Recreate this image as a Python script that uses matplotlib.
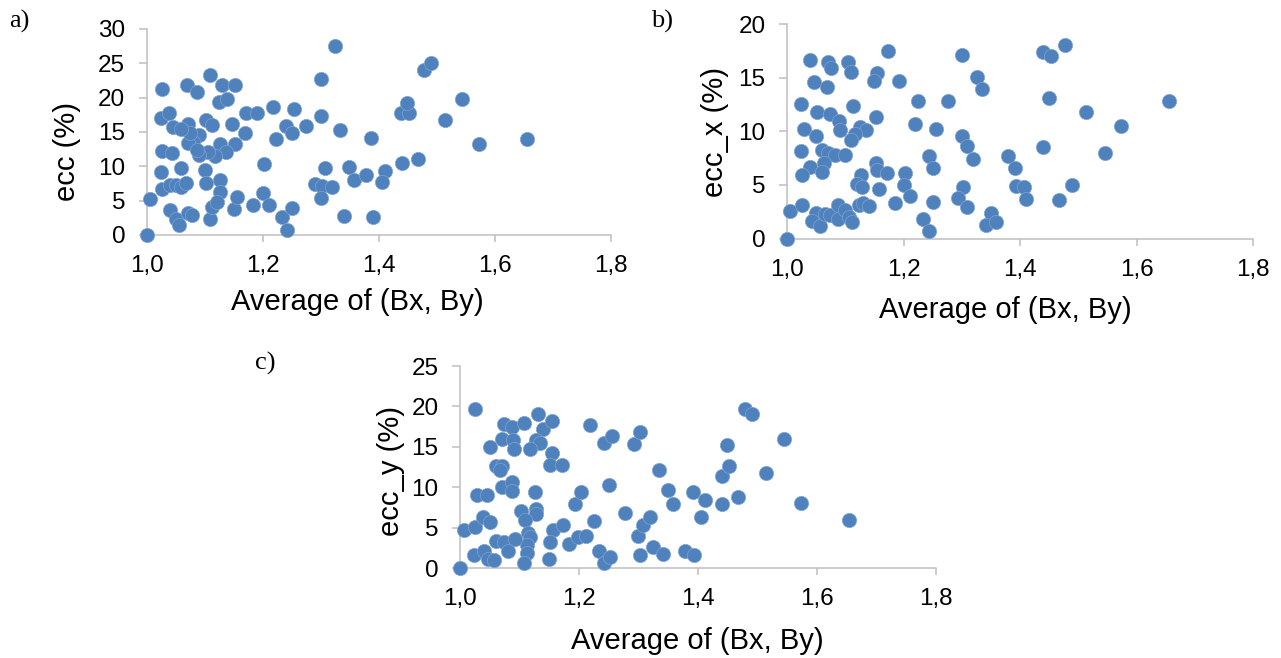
import matplotlib
matplotlib.use("Agg")
import matplotlib.pyplot as plt
from matplotlib.ticker import FuncFormatter, MultipleLocator

plt.rcParams['font.family'] = ['Liberation Sans', 'DejaVu Sans']

# panel a) ecc vs average of (Bx, By)
avg_a = [1.000, 1.005, 1.026, 1.024, 1.039, 1.046, 1.071, 1.070, 1.087, 1.109,
         1.130, 1.153, 1.125, 1.139, 1.103, 1.113, 1.147, 1.171, 1.191, 1.217,
         1.254, 1.240, 1.250, 1.274, 1.300, 1.324, 1.300, 1.333, 1.387, 1.223,
         1.170, 1.153, 1.126, 1.136, 1.117, 1.106, 1.090, 1.091, 1.080, 1.071,
         1.086, 1.074, 1.060, 1.027, 1.043, 1.024, 1.060, 1.026, 1.040, 1.050,
         1.060, 1.067, 1.100, 1.102, 1.127, 1.126, 1.040, 1.050, 1.056, 1.071,
         1.079, 1.109, 1.113, 1.121, 1.151, 1.156, 1.184, 1.200, 1.211, 1.203,
         1.233, 1.242, 1.250, 1.291, 1.303, 1.300, 1.319, 1.307, 1.340, 1.349,
         1.357, 1.378, 1.390, 1.411, 1.405, 1.440, 1.467, 1.439, 1.452, 1.448,
         1.478, 1.491, 1.514, 1.544, 1.573, 1.655]
ecc = [0.0, 5.2, 21.2, 17.1, 17.8, 15.7, 16.1, 21.8, 20.8, 23.3,
       21.8, 21.8, 19.4, 19.8, 16.8, 16.0, 16.1, 17.7, 17.7, 18.7,
       18.3, 15.9, 14.9, 15.9, 22.7, 27.5, 17.3, 15.3, 14.1, 14.0,
       14.8, 13.2, 13.2, 12.1, 11.5, 12.1, 11.6, 14.5, 13.6, 13.4,
       12.4, 14.8, 15.5, 12.2, 11.9, 9.1, 9.8, 6.7, 7.3, 7.3,
       7.0, 7.6, 9.4, 7.5, 8.0, 6.2, 3.7, 2.3, 1.5, 3.2,
       2.9, 2.3, 4.1, 4.8, 3.8, 5.5, 4.4, 6.1, 4.4, 10.3,
       2.6, 0.7, 3.9, 7.4, 7.2, 5.4, 7.0, 9.7, 2.8, 9.9,
       8.0, 8.7, 2.6, 9.3, 7.7, 10.5, 11.0, 17.7, 17.7, 19.2,
       24.0, 25.0, 16.8, 19.8, 13.3, 14.0]

# panel b) ecc_x
avg_b = [1.000, 1.005, 1.026, 1.024, 1.029, 1.024, 1.040, 1.046, 1.069, 1.070,
         1.075, 1.104, 1.110, 1.051, 1.050, 1.074, 1.089, 1.091, 1.114, 1.153,
         1.126, 1.136, 1.117, 1.109, 1.060, 1.071, 1.083, 1.100, 1.063, 1.040,
         1.026, 1.060, 1.127, 1.120, 1.129, 1.153, 1.154, 1.171, 1.157, 1.203,
         1.201, 1.211, 1.185, 1.123, 1.131, 1.140, 1.049, 1.043, 1.057, 1.066,
         1.074, 1.087, 1.087, 1.100, 1.106, 1.111, 1.173, 1.154, 1.149, 1.193,
         1.225, 1.219, 1.255, 1.276, 1.301, 1.326, 1.334, 1.301, 1.309, 1.320,
         1.243, 1.251, 1.302, 1.294, 1.309, 1.251, 1.234, 1.243, 1.350, 1.341,
         1.358, 1.380, 1.391, 1.393, 1.406, 1.411, 1.440, 1.440, 1.453, 1.478,
         1.449, 1.490, 1.467, 1.514, 1.545, 1.573, 1.655]
ecc_x = [0.0, 2.6, 3.1, 8.2, 10.2, 12.5, 16.6, 14.6, 14.1, 16.5,
         15.9, 16.5, 15.5, 11.8, 9.6, 11.6, 11.0, 10.1, 12.4, 11.3,
         10.4, 10.1, 9.7, 9.2, 8.3, 8.0, 7.8, 7.8, 7.0, 6.7,
         5.9, 6.2, 5.9, 5.1, 4.8, 7.0, 6.4, 6.1, 4.6, 6.1,
         5.0, 4.0, 3.3, 3.1, 3.3, 3.0, 2.4, 1.6, 1.2, 2.3,
         2.2, 3.1, 1.8, 2.7, 2.0, 1.5, 17.5, 15.4, 14.7, 14.7,
         12.8, 10.7, 10.2, 12.8, 17.1, 15.1, 13.9, 9.6, 8.6, 7.4,
         7.7, 6.6, 4.8, 3.8, 2.9, 3.4, 1.8, 0.7, 2.4, 1.3,
         1.5, 7.7, 6.6, 4.9, 4.8, 3.7, 8.5, 17.4, 17.0, 18.0,
         13.1, 5.0, 3.6, 11.8, 8.0, 10.5, 12.8]

# panel c) ecc_y
avg_c = [1.000, 1.006, 1.026, 1.023, 1.026, 1.028, 1.045, 1.039, 1.050, 1.040,
         1.047, 1.057, 1.050, 1.060, 1.071, 1.068, 1.070, 1.074, 1.088, 1.089,
         1.091, 1.108, 1.131, 1.140, 1.154, 1.127, 1.135, 1.118, 1.154, 1.152,
         1.172, 1.071, 1.088, 1.088, 1.126, 1.102, 1.128, 1.128, 1.110, 1.115,
         1.118, 1.112, 1.112, 1.107, 1.060, 1.074, 1.080, 1.092, 1.156, 1.152,
         1.173, 1.149, 1.184, 1.199, 1.212, 1.193, 1.204, 1.219, 1.225, 1.234,
         1.242, 1.253, 1.251, 1.242, 1.256, 1.277, 1.293, 1.302, 1.300, 1.307,
         1.320, 1.302, 1.325, 1.341, 1.335, 1.350, 1.358, 1.378, 1.394, 1.392,
         1.412, 1.406, 1.441, 1.468, 1.441, 1.453, 1.449, 1.479, 1.491, 1.515,
         1.545, 1.574, 1.655]
ecc_y = [0.0, 4.7, 19.7, 1.7, 5.1, 9.1, 9.1, 6.4, 5.7, 2.2,
         1.2, 1.0, 15.0, 12.6, 12.6, 12.1, 16.0, 17.8, 17.5, 15.8,
         14.8, 18.0, 19.1, 17.2, 18.2, 15.8, 15.5, 14.7, 14.3, 12.8,
         12.8, 10.0, 10.7, 9.5, 9.4, 7.1, 7.3, 6.7, 6.0, 4.4,
         3.9, 2.9, 1.9, 0.7, 3.4, 3.2, 2.1, 3.6, 4.7, 3.2,
         5.4, 1.2, 3.0, 3.9, 4.0, 8.0, 9.4, 17.7, 5.9, 2.2,
         0.6, 1.4, 10.3, 15.5, 16.3, 6.8, 15.4, 16.9, 4.0, 5.3,
         6.3, 1.7, 2.6, 1.8, 12.1, 9.7, 8.0, 2.1, 1.6, 9.4,
         8.4, 6.3, 8.0, 8.8, 11.4, 12.6, 15.3, 19.7, 19.1, 11.8,
         16.0, 8.1, 6.0]

DOT = '#4F81BD'
GRID = '#BFBFBF'


def comma_fmt(v, pos):
    return ('%.1f' % v).replace('.', ',')


def style_panel(ax, ymax, ylabel, ylab_xy, xlab_xy):
    ax.set_xlim(1.0, 1.8)
    ax.set_ylim(0, ymax)
    ax.xaxis.set_major_locator(MultipleLocator(0.2))
    ax.yaxis.set_major_locator(MultipleLocator(5))
    ax.xaxis.set_major_formatter(FuncFormatter(comma_fmt))
    for s in ['top', 'right']:
        ax.spines[s].set_visible(False)
    for s in ['left', 'bottom']:
        ax.spines[s].set_color(GRID)
        ax.spines[s].set_linewidth(1.1)
    ax.tick_params(axis='both', direction='out', color=GRID, width=1.1,
                   labelsize=17.5, labelcolor='black')
    ax.tick_params(axis='x', length=5, pad=9.5)
    ax.tick_params(axis='y', length=5.5, pad=10)
    ax.set_ylabel(ylabel, fontsize=21)
    ax.yaxis.label.set_verticalalignment('center')
    ax.yaxis.set_label_coords(*ylab_xy)
    ax.set_xlabel('Average of (Bx, By)', fontsize=21)
    ax.xaxis.label.set_verticalalignment('center')
    ax.xaxis.set_label_coords(*xlab_xy)


fig = plt.figure(figsize=(12.81, 6.58), dpi=100)

ax_a = fig.add_axes([0.1145, 0.6429, 0.3622, 0.3131])
ax_b = fig.add_axes([0.6144, 0.6375, 0.3638, 0.3260])
ax_c = fig.add_axes([0.3591, 0.1363, 0.3713, 0.3074])

for ax, xs, ys in [(ax_a, avg_a, ecc), (ax_b, avg_b, ecc_x), (ax_c, avg_c, ecc_y)]:
    ax.scatter(xs, ys, s=105, color=DOT, edgecolors='#7FA3D2', linewidths=0.5,
               clip_on=False, zorder=3)

style_panel(ax_a, 30, 'ecc (%)', (-0.172, 0.404), (0.454, -0.323))
style_panel(ax_b, 20, 'ecc_x (%)', (-0.154, 0.497), (0.469, -0.335))
style_panel(ax_c, 25, 'ecc_y (%)', (-0.146, 0.482), (0.4985, -0.358))

for label, px, py in [('a)', 9, 21), ('b)', 651, 21), ('c)', 255, 363)]:
    fig.text(px / 1281, 1 - py / 658, label, ha='left', va='center',
             fontsize=19, family=['Liberation Serif', 'DejaVu Serif'])

fig.savefig('out.png', dpi=100)
